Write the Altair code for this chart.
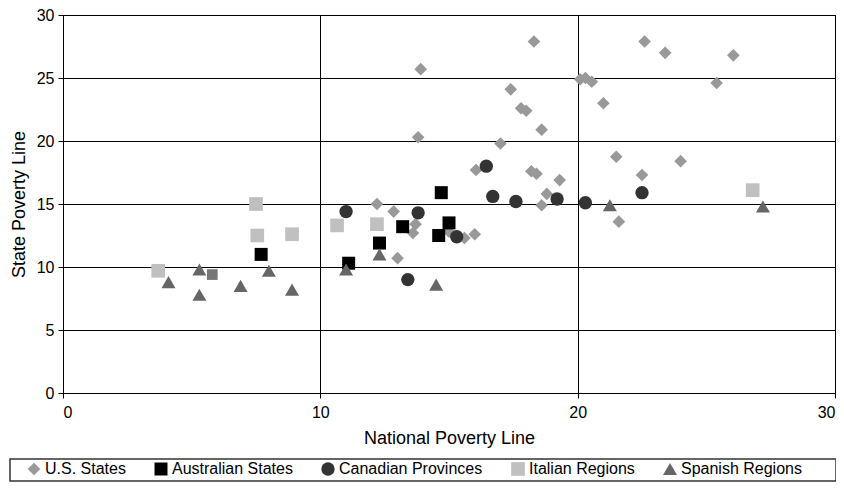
import altair as alt
import pandas as pd

series_names = ["U.S. States", "Australian States", "Canadian Provinces", "Italian Regions", "Spanish Regions"]
series_colors = ["#999999", "#000000", "#333333", "#c0c0c0", "#666666"]
series_shapes = ["diamond", "square", "circle", "square", "triangle-up"]
series_sizes = [160, 196, 215, 115, 210]

us_x = [13.9, 18.3, 17.4, 17.8, 18.0, 18.6, 13.8, 17.0, 16.05, 18.2, 18.4, 19.3, 18.8,
        20.1, 20.3, 20.55, 21.0, 22.6, 23.4, 26.05, 25.4, 21.5, 24.0, 22.5, 21.6,
        12.2, 12.85, 13.7, 13.6, 15.6, 16.0, 13.0, 18.6, 15.0]
us_y = [25.7, 27.9, 24.1, 22.6, 22.4, 20.9, 20.3, 19.8, 17.7, 17.6, 17.4, 16.9, 15.8,
        24.9, 25.0, 24.7, 23.0, 27.9, 27.0, 26.8, 24.6, 18.75, 18.4, 17.3, 13.6,
        15.0, 14.4, 13.4, 12.7, 12.3, 12.6, 10.7, 14.9, 12.8]

aus_x = [7.7, 14.7, 13.2, 15.0, 14.6, 12.3, 11.1]
aus_y = [11.0, 15.9, 13.2, 13.5, 12.5, 11.9, 10.3]

can_x = [11.0, 13.8, 15.3, 13.4, 16.45, 16.7, 17.6, 19.2, 20.3, 22.5]
can_y = [14.4, 14.3, 12.4, 9.0, 18.0, 15.6, 15.2, 15.4, 15.1, 15.9]

ita_x = [3.7, 7.5, 7.55, 8.9, 10.65, 12.2, 26.8]
ita_y = [9.7, 15.0, 12.5, 12.6, 13.3, 13.4, 16.1]

spa_x = [4.1, 5.3, 5.3, 6.9, 8.0, 8.9, 11.0, 12.3, 14.5, 21.25, 27.2]
spa_y = [8.8, 9.8, 7.8, 8.5, 9.7, 8.2, 9.8, 11.0, 8.6, 14.9, 14.8]

odd_x = [5.8]
odd_y = [9.4]

rows = []
for name, xs, ys in zip(series_names, [us_x, aus_x, can_x, ita_x, spa_x], [us_y, aus_y, can_y, ita_y, spa_y]):
    for xv, yv in zip(xs, ys):
        rows.append({"nat": xv, "state": yv, "series": name})
df = pd.DataFrame(rows)
odd_df = pd.DataFrame({"nat": odd_x, "state": odd_y})

FONT = "Liberation Sans"

xscale = alt.Scale(domain=[0, 30], nice=False, zero=False)
yscale = alt.Scale(domain=[0, 30], nice=False, zero=False)

points = alt.Chart(df).mark_point(filled=True, opacity=1, strokeWidth=0).encode(
    x=alt.X("nat:Q", scale=xscale,
            axis=alt.Axis(title="National Poverty Line", values=[0, 10, 20, 30])),
    y=alt.Y("state:Q", scale=yscale,
            axis=alt.Axis(title="State Poverty Line", values=[0, 5, 10, 15, 20, 25, 30])),
    color=alt.Color("series:N", scale=alt.Scale(domain=series_names, range=series_colors),
                    sort=series_names, legend=alt.Legend(title=None)),
    shape=alt.Shape("series:N", scale=alt.Scale(domain=series_names, range=series_shapes),
                    sort=series_names, legend=alt.Legend(title=None)),
    size=alt.Size("series:N", scale=alt.Scale(domain=series_names, range=series_sizes), legend=None),
)

odd = alt.Chart(odd_df).mark_point(filled=True, opacity=1, shape="square", size=115,
                                     color="#777777", strokeWidth=0).encode(
    x=alt.X("nat:Q", scale=xscale),
    y=alt.Y("state:Q", scale=yscale),
)

# legend frame (decoration)
frame = alt.Chart(pd.DataFrame({"k": [0]})).mark_rect(
    fillOpacity=0, stroke="#333333", strokeWidth=1.5
).encode(
    x=alt.value(-53), x2=alt.value(773), y=alt.value(444), y2=alt.value(466)
)

chart = alt.layer(frame, points, odd).properties(
    width=772, height=378,
    autosize=alt.AutoSizeParams(type="none"),
    padding={"left": 55, "top": 7, "right": 1, "bottom": 89},
).configure_view(stroke="#000000", strokeWidth=1).configure_axis(
    grid=True, gridColor="#000000", gridWidth=1, gridOpacity=1,
    domainColor="#000000", domainWidth=1,
    tickColor="#000000", tickSize=5, tickWidth=1,
    labelFont=FONT, labelFontSize=16, labelColor="#000000",
    titleFont=FONT, titleFontSize=18, titleFontWeight="normal", titleColor="#000000",
).configure_axisX(labelPadding=6, titlePadding=9).configure_axisY(labelPadding=4, titlePadding=8).configure_legend(
    orient="none", legendX=-37, legendY=446, direction="horizontal",
    padding=0,
    labelFont=FONT, labelFontSize=16, labelColor="#000000",
    symbolSize=85, symbolStrokeWidth=0, labelOffset=3, columnPadding=27,
)

chart.save("out.html", embed_options={"renderer": "svg", "actions": False})
